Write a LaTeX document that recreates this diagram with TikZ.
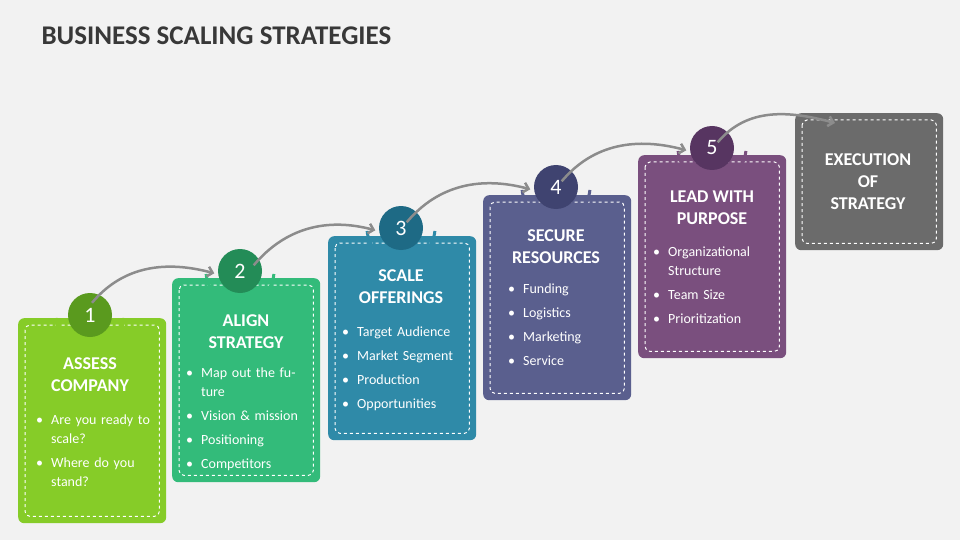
\documentclass[tikz,border=0pt]{standalone}
\usepackage{fontspec}
\setmainfont{Carlito}
\usetikzlibrary{positioning, arrows.meta}
\definecolor{bg}{HTML}{F2F2F2}
\definecolor{cA}{HTML}{86CC28}\definecolor{dA}{HTML}{5A9A1E}
\definecolor{cB}{HTML}{33BB7A}\definecolor{dB}{HTML}{238C57}
\definecolor{cC}{HTML}{2F8AA8}\definecolor{dC}{HTML}{1E6A85}
\definecolor{cD}{HTML}{5A5F8E}\definecolor{dD}{HTML}{3F4370}
\definecolor{cE}{HTML}{7A4F7E}\definecolor{dE}{HTML}{573561}
\definecolor{cF}{HTML}{6B6B6B}
\newcommand{\bl}[1]{\par\hangindent=15pt\hangafter=1\noindent\makebox[15pt][l]{\textbullet}#1\par\vspace{5pt}}
\tikzset{
  card/.style={draw=none, fill=#1, rounded corners=6pt, minimum width=148pt, anchor=north west},
  inner/.style={draw=white, dashed, line width=1pt, rounded corners=5pt},
  num/.style={circle, fill=#1, minimum size=44pt, text=white, font=\fontsize{22}{22}\selectfont},
  ring/.style={draw=#1, line width=3pt},
  head/.style={text=white, font=\bfseries\fontsize{18}{22}\selectfont, align=center},
  items/.style={text=white, font=\fontsize{14}{19}\selectfont, text width=118pt, anchor=north west, inner sep=0pt},
  hop/.style={draw=gray!90, line width=2.5pt, -{Straight Barb[length=5pt,width=10pt]}}
}
\begin{document}
\begin{tikzpicture}[x=1pt, y=-1pt]
	\fill[bg] (0,0) rectangle (960,540);
	\useasboundingbox (0,0) rectangle (960,540);
	\node[anchor=west, text=black!78, font=\bfseries\fontsize{27}{27}\selectfont] (title) at (38,36) {BUSINESS SCALING STRATEGIES};

	% cards
	\node[card=cA, minimum height=205pt] (b1) at (18,318) {};
	\node[card=cB, minimum height=204pt] (b2) at (172,278) {};
	\node[card=cC, minimum height=204pt] (b3) at (328,236) {};
	\node[card=cD, minimum height=205pt] (b4) at (483,195) {};
	\node[card=cE, minimum height=203pt] (b5) at (638,155) {};
	\node[card=cF, minimum height=137pt] (b6) at (795,113) {};
	\foreach \b in {b1,b2,b3,b4,b5,b6}
		\draw[inner] ([shift={(7pt,-7pt)}]\b.north west) rectangle ([shift={(-7pt,7pt)}]\b.south east);

	% rings and numbers
	\draw[ring=cA] (90,315) ++(5:34) arc[start angle=5, end angle=175, radius=34];
	\draw[ring=cB] (240,271) ++(5:34) arc[start angle=5, end angle=175, radius=34];
	\draw[ring=cC] (401,228) ++(5:34) arc[start angle=5, end angle=175, radius=34];
	\draw[ring=cD] (556,187) ++(5:34) arc[start angle=5, end angle=175, radius=34];
	\draw[ring=cE] (712,148) ++(5:34) arc[start angle=5, end angle=175, radius=34];
	\node[num=dA] (n1) at (90,315) {1};
	\node[num=dB] (n2) at (240,271) {2};
	\node[num=dC] (n3) at (401,228) {3};
	\node[num=dD] (n4) at (556,187) {4};
	\node[num=dE] (n5) at (712,148) {5};

	% headings
	\node[head] (h1) at (90,375) {ASSESS\\COMPANY};
	\node[head] (h2) at (246,332) {ALIGN\\STRATEGY};
	\node[head] (h3) at (401,287) {SCALE\\OFFERINGS};
	\node[head] (h4) at (556,247) {SECURE\\RESOURCES};
	\node[head] (h5) at (712,208) {LEAD WITH\\PURPOSE};
	\node[head] (h6) at (868,182) {EXECUTION\\OF\\STRATEGY};

	% bullet lists
	\node[items] (l1) at (36,405) {\bl{Are you ready to scale?}\bl{Where do you stand?}};
	\node[items] (l2) at (186,358) {\bl{Map out the future}\bl{Vision \& mission}\bl{Positioning}\bl{Competitors}};
	\node[items] (l3) at (342,317) {\bl{Target Audience}\bl{Market Segment}\bl{Production}\bl{Opportunities}};
	\node[items] (l4) at (508,274) {\bl{Funding}\bl{Logistics}\bl{Marketing}\bl{Service}};
	\node[items] (l5) at (653,237) {\bl{Organizational Structure}\bl{Team Size}\bl{Prioritization}};

	% connectors
	\draw[hop] ([shift={(2pt,-10pt)}]n1.north) to[out=50, in=165] ([shift={(-10pt,-18pt)}]n2.north west);
	\draw[hop] ([shift={(-2pt,-10pt)}]n2.north east) to[out=50, in=165] ([shift={(-10pt,-18pt)}]n3.north west);
	\draw[hop] ([shift={(-10pt,-10pt)}]n3.north east) to[out=50, in=165] ([shift={(-10pt,-18pt)}]n4.north west);
	\draw[hop] ([shift={(-10pt,-10pt)}]n4.north east) to[out=50, in=165] ([shift={(-10pt,-18pt)}]n5.north west);
	\draw[hop] ([shift={(-10pt,-10pt)}]n5.north east) to[out=50, in=165] ([shift={(40pt,-10pt)}]b6.north west);
\end{tikzpicture}
\end{document}
